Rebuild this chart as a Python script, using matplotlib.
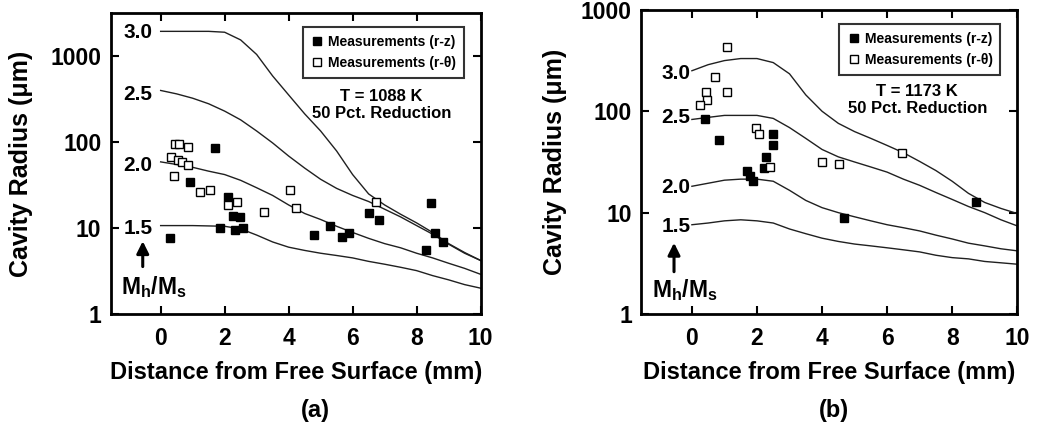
import numpy as np
import matplotlib
matplotlib.use('Agg')
import matplotlib.pyplot as plt

plt.rcParams['font.family'] = ['Liberation Sans', 'DejaVu Sans']
plt.rcParams['font.weight'] = 'bold'
plt.rcParams['mathtext.fontset'] = 'custom'
plt.rcParams['mathtext.rm'] = 'Liberation Sans:bold'
plt.rcParams['mathtext.it'] = 'Liberation Sans:bold'
plt.rcParams['mathtext.bf'] = 'Liberation Sans:bold'

# grid of the model curves (mm)
dist = [0, 0.5, 1, 1.5, 2, 2.5, 3, 3.5, 4, 4.5, 5, 5.5, 6, 6.5, 7, 7.5, 8, 8.5, 9, 9.5, 10]
ratios = ['3.0', '2.5', '2.0', '1.5']

# (a) T = 1088 K, model curves for Mh/Ms = 3.0, 2.5, 2.0, 1.5
a_30 = [1950, 1950, 1950, 1950, 1905, 1550, 1050, 590, 355, 214, 135, 79, 42, 25, 18.6, 14.5, 11.5, 8.9, 6.6, 5.2, 4.2]
a_25 = [400, 365, 325, 280, 230, 182, 135, 98, 69, 50, 37, 29, 24, 20.4, 16.6, 13.5, 10.7, 8.5, 6.5, 5.1, 4.2]
a_20 = [59, 55, 51, 46, 42, 36, 29.5, 24, 18.6, 14.8, 12.6, 10.5, 8.9, 7.6, 6.6, 5.9, 5.1, 4.5, 3.9, 3.4, 2.9]
a_15 = [10.7, 10.7, 10.7, 10.6, 10.5, 9.8, 8.3, 6.9, 6.0, 5.5, 5.1, 4.8, 4.5, 4.1, 3.8, 3.5, 3.2, 2.8, 2.5, 2.2, 2.0]

# (a) measurements
a_rz_x = [0.30, 0.93, 1.69, 1.87, 2.10, 2.26, 2.47, 2.31, 2.57, 4.79, 5.30, 5.66, 5.90, 6.50, 6.82, 8.28, 8.46, 8.56, 8.82]
a_rz_y = [7.6, 34, 85, 10, 23, 13.8, 13.5, 9.5, 10, 8.3, 10.7, 7.9, 8.7, 15.1, 12.3, 5.6, 19.5, 8.7, 6.8]
a_rt_x = [0.44, 0.56, 0.85, 0.33, 0.54, 0.68, 0.85, 0.41, 1.24, 1.55, 2.10, 2.38, 3.23, 4.05, 4.24, 6.72]
a_rt_y = [95, 95, 87, 68, 62, 59, 54, 40, 26, 28, 18.6, 20.4, 15.5, 28, 17, 20.4]

# (b) T = 1173 K
b_30 = [251, 288, 316, 331, 331, 302, 234, 145, 100, 76, 63, 54, 46, 39, 32, 26, 20.4, 15.5, 12.6, 11.0, 9.8]
b_25 = [83, 87, 91, 91, 91, 85, 69, 54, 42, 35.5, 31.6, 28.2, 25.1, 21.4, 18.6, 15.8, 13.5, 11.5, 10.0, 8.5, 7.4]
b_20 = [18.2, 19.5, 20.9, 21.4, 21.4, 20.4, 16.6, 13.2, 11.2, 10.0, 9.1, 8.3, 7.6, 7.1, 6.6, 6.0, 5.5, 5.0, 4.7, 4.4, 4.2]
b_15 = [7.6, 7.9, 8.3, 8.5, 8.3, 7.9, 6.9, 6.2, 5.6, 5.2, 4.9, 4.7, 4.5, 4.3, 4.1, 3.8, 3.6, 3.5, 3.3, 3.2, 3.1]

b_rz_x = [0.40, 0.83, 1.70, 1.78, 1.88, 2.21, 2.29, 2.48, 2.49, 4.66, 8.73]
b_rz_y = [83, 52, 26, 23, 20.4, 27.5, 35, 46, 59, 8.9, 12.6]
b_rt_x = [1.09, 0.71, 0.43, 0.45, 0.25, 1.08, 1.96, 2.05, 2.39, 4.01, 4.52, 6.46]
b_rt_y = [427, 220, 154, 129, 115, 154, 69, 60, 28, 31.5, 30, 39]


def draw_panel(ax, curves, rz_x, rz_y, rt_x, rt_y, ymax, label_pos, temp, arrow, mhms, ylab_x):
    for c in curves:
        ax.plot(dist, c, color='#202020', lw=1.0)
    ax.plot(rz_x, rz_y, 's', color='black', ms=5.5, label='Measurements (r-z)')
    ax.plot(rt_x, rt_y, 's', mfc='white', mec='black', mew=1.0, ms=5.5,
            label='Measurements (r-\u03b8)')

    ax.set_yscale('log')
    ax.set_xlim(-1.55, 10)
    ax.set_ylim(1, ymax)
    ax.set_xticks([0, 2, 4, 6, 8, 10])
    ax.set_yticks([1, 10, 100, 1000])
    ax.set_yticklabels(['1', '10', '100', '1000'])
    ax.minorticks_off()
    ax.tick_params(direction='in', length=6, width=1.5, top=True, right=True,
                   labelsize=16.5)
    ax.tick_params(axis='x', pad=9)
    ax.tick_params(axis='y', pad=7)
    for s in ax.spines.values():
        s.set_linewidth(2)

    for (lx, ly), r in zip(label_pos, ratios):
        ax.text(lx, ly, r, ha='right', va='center', fontsize=15, fontweight='bold')

    ax.annotate('', xy=(arrow[0], arrow[2]), xytext=(arrow[0], arrow[1]),
                arrowprops=dict(arrowstyle='-|>', color='black', lw=2.2,
                                mutation_scale=18))
    ax.text(mhms[0], mhms[1], r'$\mathrm{M_h/M_s}$', ha='center', va='center', fontsize=16.5)

    ax.text(temp[0], temp[1], temp[2], transform=ax.transAxes, ha='center',
            va='center', fontsize=12, fontweight='bold')
    ax.text(temp[0], temp[1] - 0.054, '50 Pct. Reduction', transform=ax.transAxes,
            ha='center', va='center', fontsize=12, fontweight='bold')

    leg = ax.legend(loc='upper right', bbox_to_anchor=(0.955, 0.952), fontsize=10,
                    frameon=True, fancybox=False, edgecolor='black',
                    handletextpad=0.3, borderpad=0.55, handlelength=1.0,
                    labelspacing=0.5, borderaxespad=0)
    leg.get_frame().set_linewidth(1.5)

    ax.set_xlabel('Distance from Free Surface (mm)', fontsize=17, fontweight='bold', labelpad=8)
    ax.set_ylabel('Cavity Radius (\u03bcm)', fontsize=18, fontweight='bold')
    ax.yaxis.set_label_coords(ylab_x, 0.5)


fig = plt.figure(figsize=(10.38, 4.29), dpi=100)
ax1 = fig.add_axes([0.107, 0.268, 0.356, 0.702])
ax2 = fig.add_axes([0.618, 0.268, 0.362, 0.709])

draw_panel(ax1, [a_30, a_25, a_20, a_15], a_rz_x, a_rz_y, a_rt_x, a_rt_y, 3200,
           [(-0.25, 10**3.28), (-0.25, 10**2.55), (-0.25, 10**1.73), (-0.25, 10**1.0)],
           (0.732, 0.721, 'T = 1088 K'), (-0.56, 10**0.52, 10**0.88), (-0.22, 10**0.31), -0.21)
draw_panel(ax2, [b_30, b_25, b_20, b_15], b_rz_x, b_rz_y, b_rt_x, b_rt_y, 1000,
           [(-0.05, 10**2.37), (-0.05, 10**1.94), (-0.05, 10**1.25), (-0.05, 10**0.86)],
           (0.734, 0.730, 'T = 1173 K'), (-0.55, 10**0.39, 10**0.73), (-0.22, 10**0.24), -0.197)

fig.text(0.304, 0.042, '(a)', ha='center', va='center', fontsize=17, fontweight='bold')
fig.text(0.803, 0.042, '(b)', ha='center', va='center', fontsize=17, fontweight='bold')

fig.savefig('out.png', dpi=100)
